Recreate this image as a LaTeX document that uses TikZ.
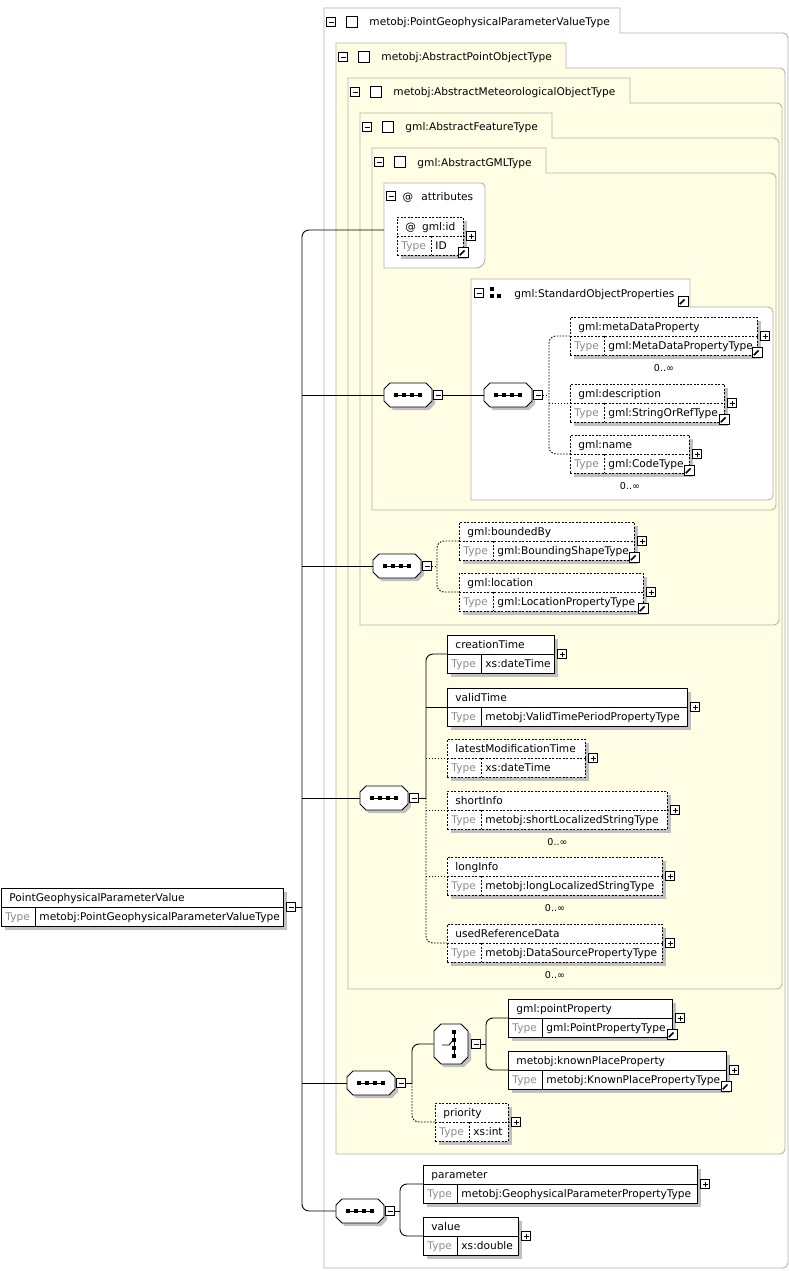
\documentclass[tikz,border=0pt]{standalone}
\usepackage{fontspec}
\setmainfont{DejaVu Sans}
\usetikzlibrary{calc}

\definecolor{panelyellow}{RGB}{255,254,228}
\definecolor{panelgray}{RGB}{178,178,178}
\definecolor{shadowgray}{RGB}{192,192,192}
\definecolor{typegray}{RGB}{140,140,140}

\tikzset{
  every node/.style={inner sep=0pt, font=\fontsize{10.6pt}{12pt}\selectfont},
  panelline/.style={draw=panelgray},
  required/.style={solid},
  optional/.style={dash pattern=on 2pt off 1.5pt},
  optconn/.style={dash pattern=on 1.5pt off 1.5pt},
  elembox/.style={draw, fill=white, anchor=north west, minimum height=38},
  minusbox/.style={draw, fill=white, minimum size=9,
    path picture={\draw[line width=0.8pt] ([xshift=2pt]path picture bounding box.west) -- ([xshift=-2pt]path picture bounding box.east);}},
  plusbox/.style={draw, fill=white, minimum size=9,
    path picture={\draw[line width=0.8pt] ([xshift=2pt]path picture bounding box.west) -- ([xshift=-2pt]path picture bounding box.east);
                  \draw[line width=0.8pt] ([yshift=2pt]path picture bounding box.south) -- ([yshift=-2pt]path picture bounding box.north);}},
  refbox/.style={draw, fill=white, minimum size=10,
    path picture={\fill ([shift={(-1pt,-1pt)}]path picture bounding box.north east) -- ++(-5.5pt,0pt) -- ++(5.5pt,-5.5pt) -- cycle;
                  \draw[line width=1.7pt] ([shift={(1.8pt,1.8pt)}]path picture bounding box.south west) -- ([shift={(-3.5pt,-3.5pt)}]path picture bounding box.north east);}},
  occurs/.style={font=\fontsize{9.5pt}{11pt}\selectfont}
}

% type panel with its tab: name, fill, left, tab top, tab right, body top, right, bottom, title
\newcommand{\panel}[9]{%
  \draw[panelline, fill=#2] (#3,#4) -- (#5,#4) -- (#5,#6) [rounded corners=5] -- (#7,#6) -- (#7,#8) [sharp corners] -- (#3,#8) -- cycle;
  \node[minusbox] (#1-m) at (#3+7,#4+14) {};
  \node[draw, fill=white, minimum size=11] (#1-sq) at (#3+27.5,#4+14) {};
  \node[anchor=base west] (#1) at (#3+45,#4+18) {#9};
}

% element box: name, line style, x, y, width, label, type, 0 plus / 1 plus+ref / 2 minus
\newcommand{\elem}[8]{%
  \fill[shadowgray] (#3+4,#4+4) rectangle (#3+#5+4,#4+42);
  \node[elembox, #2, minimum width=#5] (#1) at (#3,#4) {};
  \draw[#2] (#1.west) -- (#1.east);
  \draw[#2] (#3+34,#4+19) -- (#3+34,#4+38);
  \node[anchor=base west] (#1-name) at (#3+8,#4+13.5) {#6};
  \node[anchor=base west, text=typegray] (#1-tl) at (#3+4,#4+32.5) {Type};
  \node[anchor=base west] (#1-type) at (#3+38,#4+32.5) {#7};
  \ifcase#8
    \node[plusbox] (#1-x) at (#3+#5+8,#4+19) {};
  \or
    \node[plusbox] (#1-x) at (#3+#5+8,#4+19) {};
    \node[refbox] (#1-ref) at (#3+#5,#4+35) {};
  \or
    \node[minusbox] (#1-x) at (#3+#5+8,#4+19) {};
  \fi
}

% sequence compositor: name, x, y
\newcommand{\seqbox}[3]{%
  \fill[shadowgray, shift={(#2,#3)}, xshift=3pt, yshift=-3pt] (-24,-6) -- (-18,-12) -- (18,-12) -- (24,-6) -- (24,6) -- (18,12) -- (-18,12) -- (-24,6) -- cycle;
  \draw[fill=white, shift={(#2,#3)}] (-24,-6) -- (-18,-12) -- (18,-12) -- (24,-6) -- (24,6) -- (18,12) -- (-18,12) -- (-24,6) -- cycle;
  \node[minimum width=48, minimum height=24] (#1) at (#2,#3) {};
  \draw[shift={(#2,#3)}] (-13,0) -- (13,0);
  \foreach \d in {-12,-4,4,12} \fill[shift={(#2,#3)}] (\d-2,-2) rectangle (\d+2,2);
  \node[minusbox] (#1-m) at (#2+30,#3) {};
}

\begin{document}
\begin{tikzpicture}[x=1pt, y=-1pt, line width=0.9pt]
\useasboundingbox[fill=white] (0,0) rectangle (789,1271);

% type panels, outermost first
\panel{pgpvt}{white}{324}{8}{620}{33}{788}{1268}{metobj:PointGeophysicalParameterValueType}
\panel{apot}{panelyellow}{336}{43}{566}{68}{785}{1154}{metobj:AbstractPointObjectType}
\panel{amot}{panelyellow}{348}{78}{630}{103}{782}{989}{metobj:AbstractMeteorologicalObjectType}
\panel{aft}{panelyellow}{360}{113}{552}{138}{779}{625}{gml:AbstractFeatureType}
\panel{agt}{panelyellow}{372}{148}{546}{173}{776}{510}{gml:AbstractGMLType}

% attributes
\draw[panelline, fill=white] (384,268) -- (384,183) [rounded corners=4] -- (485,183) [rounded corners=9] -- (485,268) [sharp corners] -- cycle;
\node[minusbox] (attr-m) at (391,196) {};
\node[anchor=base] (attr-at) at (408,200) {@};
\node[anchor=base west] (attr) at (421,200) {attributes};
\coordinate (attrin) at (384,230);
\elem{gmlid}{optional}{397}{217}{66}{@\hspace{6pt}gml:id}{ID}{1}

% group gml:StandardObjectProperties
\draw[panelline, fill=white] (471,279) -- (690,279) -- (690,307) [rounded corners=5] -- (773,307) -- (773,500) [sharp corners] -- (471,500) -- cycle;
\node[minusbox] (sop-m) at (479,293) {};
\fill (490,287) rectangle ++(4,4);
\fill (490,294) rectangle ++(4,4);
\fill (497,294) rectangle ++(4,4);
\node[anchor=base west] (sop) at (514,297) {gml:StandardObjectProperties};
\node[refbox] (sop-ref) at (683,301) {};

% compositors
\seqbox{seqA}{408}{395}
\seqbox{seqB}{508}{395}
\seqbox{seqC}{397}{566}
\seqbox{seqD}{384}{798}
\seqbox{seqE}{371}{1083}
\seqbox{seqF}{360}{1211}

% choice
\fill[shadowgray, shift={(451,1044)}, xshift=3pt, yshift=-3pt] (-17,-13) -- (-10,-20) -- (10,-20) -- (17,-13) -- (17,13) -- (10,20) -- (-10,20) -- (-17,13) -- cycle;
\draw[fill=white, shift={(451,1044)}] (-17,-13) -- (-10,-20) -- (10,-20) -- (17,-13) -- (17,13) -- (10,20) -- (-10,20) -- (-17,13) -- cycle;
\node[minimum width=34, minimum height=40] (choice) at (451,1044) {};
\draw[shift={(451,1044)}] (3,-13) -- (3,13);
\draw[shift={(451,1044)}] (-9,1) -- (-2,1) -- (3,-5);
\foreach \d in {-12,-4,4,12} \fill[shift={(451,1044)}] (1.2,\d-1.8) rectangle (4.8,\d+1.8);
\node[minusbox] (choice-m) at (476,1044) {};

% root element
\elem{root}{required}{1}{888}{282}{PointGeophysicalParameterValue}{metobj:PointGeophysicalParameterValueType}{2}

% connectors
\draw (root-x.east) -- ++(6,0) coordinate (rootj);
\draw[rounded corners=7] (attrin) -| (rootj) |- (seqF.west);
\draw (rootj |- seqA.west) -- (seqA.west);
\draw (rootj |- seqC.west) -- (seqC.west);
\draw (rootj |- seqD.west) -- (seqD.west);
\draw (rootj |- seqE.west) -- (seqE.west);
\draw (seqA-m.east) -- (seqB.west);

\draw[optconn] (seqB-m.east) -- ++(6,0) coordinate (seqBj);
\coordinate (mdpin) at (570,336);
\coordinate (descin) at (570,403);
\coordinate (namein) at (570,454);
\draw[optconn, rounded corners=7] (mdpin) -| (seqBj) |- (namein);
\draw[optconn] (seqBj |- descin) -- (descin);

\draw[optconn] (seqC-m.east) -- ++(5,0) coordinate (seqCj);
\coordinate (boundin) at (459,541);
\coordinate (locin) at (459,592);
\draw[optconn, rounded corners=7] (boundin) -| (seqCj) |- (locin);

\draw (seqD-m.east) -- ++(7,0) coordinate (seqDj);
\coordinate (creain) at (447,654);
\coordinate (usedin) at (447,943);
\draw[rounded corners=7] (creain) -| (seqDj);
\draw[optconn, rounded corners=7] (seqDj) |- (usedin);
\draw (seqDj |- 0,707) -- (447,707);
\draw[optconn] (seqDj |- 0,758) -- (447,758);
\draw[optconn] (seqDj |- 0,810) -- (447,810);
\draw[optconn] (seqDj |- 0,876) -- (447,876);

\draw (seqE-m.east) -- ++(6,0) coordinate (seqEj);
\coordinate (prioin) at (435,1122);
\draw[rounded corners=7] (choice.west) -| (seqEj);
\draw[optconn, rounded corners=7] (seqEj) |- (prioin);

\draw (choice-m.east) -- ++(5,0) coordinate (choicej);
\coordinate (pointin) at (508,1018);
\coordinate (knownin) at (508,1070);
\draw[rounded corners=7] (pointin) -| (choicej) |- (knownin);

\draw (seqF-m.east) -- ++(5,0) coordinate (seqFj);
\coordinate (paramin) at (423,1184);
\coordinate (valuein) at (423,1236);
\draw[rounded corners=7] (paramin) -| (seqFj) |- (valuein);

% elements
\elem{mdp}{optional}{570}{317}{187}{gml:metaDataProperty}{gml:MetaDataPropertyType}{1}
\elem{desc}{optional}{570}{384}{154}{gml:description}{gml:StringOrRefType}{1}
\elem{gname}{optional}{570}{435}{119}{gml:name}{gml:CodeType}{1}
\node[occurs] (mdp-occ) at ([yshift=-12pt]mdp.south) {0..∞};
\node[occurs] (gname-occ) at ([yshift=-12pt]gname.south) {0..∞};

\elem{bounded}{optional}{459}{522}{175}{gml:boundedBy}{gml:BoundingShapeType}{1}
\elem{location}{optional}{459}{573}{184}{gml:location}{gml:LocationPropertyType}{1}

\elem{creation}{required}{447}{635}{107}{creationTime}{xs:dateTime}{0}
\elem{valid}{required}{447}{688}{240}{validTime}{metobj:ValidTimePeriodPropertyType}{0}
\elem{latest}{optional}{447}{739}{138}{latestModificationTime}{xs:dateTime}{0}
\elem{short}{optional}{447}{791}{220}{shortInfo}{metobj:shortLocalizedStringType}{0}
\elem{long}{optional}{447}{857}{215}{longInfo}{metobj:longLocalizedStringType}{0}
\elem{usedref}{optional}{447}{924}{215}{usedReferenceData}{metobj:DataSourcePropertyType}{0}
\node[occurs] (short-occ) at ([yshift=-12pt]short.south) {0..∞};
\node[occurs] (long-occ) at ([yshift=-12pt]long.south) {0..∞};
\node[occurs] (usedref-occ) at ([yshift=-12pt]usedref.south) {0..∞};

\elem{pointprop}{required}{508}{999}{164}{gml:pointProperty}{gml:PointPropertyType}{1}
\elem{knownplace}{required}{508}{1051}{218}{metobj:knownPlaceProperty}{metobj:KnownPlacePropertyType}{1}
\elem{priority}{optional}{435}{1103}{73}{priority}{xs:int}{0}

\elem{param}{required}{423}{1165}{274}{parameter}{metobj:GeophysicalParameterPropertyType}{0}
\elem{value}{required}{423}{1217}{95}{value}{xs:double}{0}
\end{tikzpicture}
\end{document}
